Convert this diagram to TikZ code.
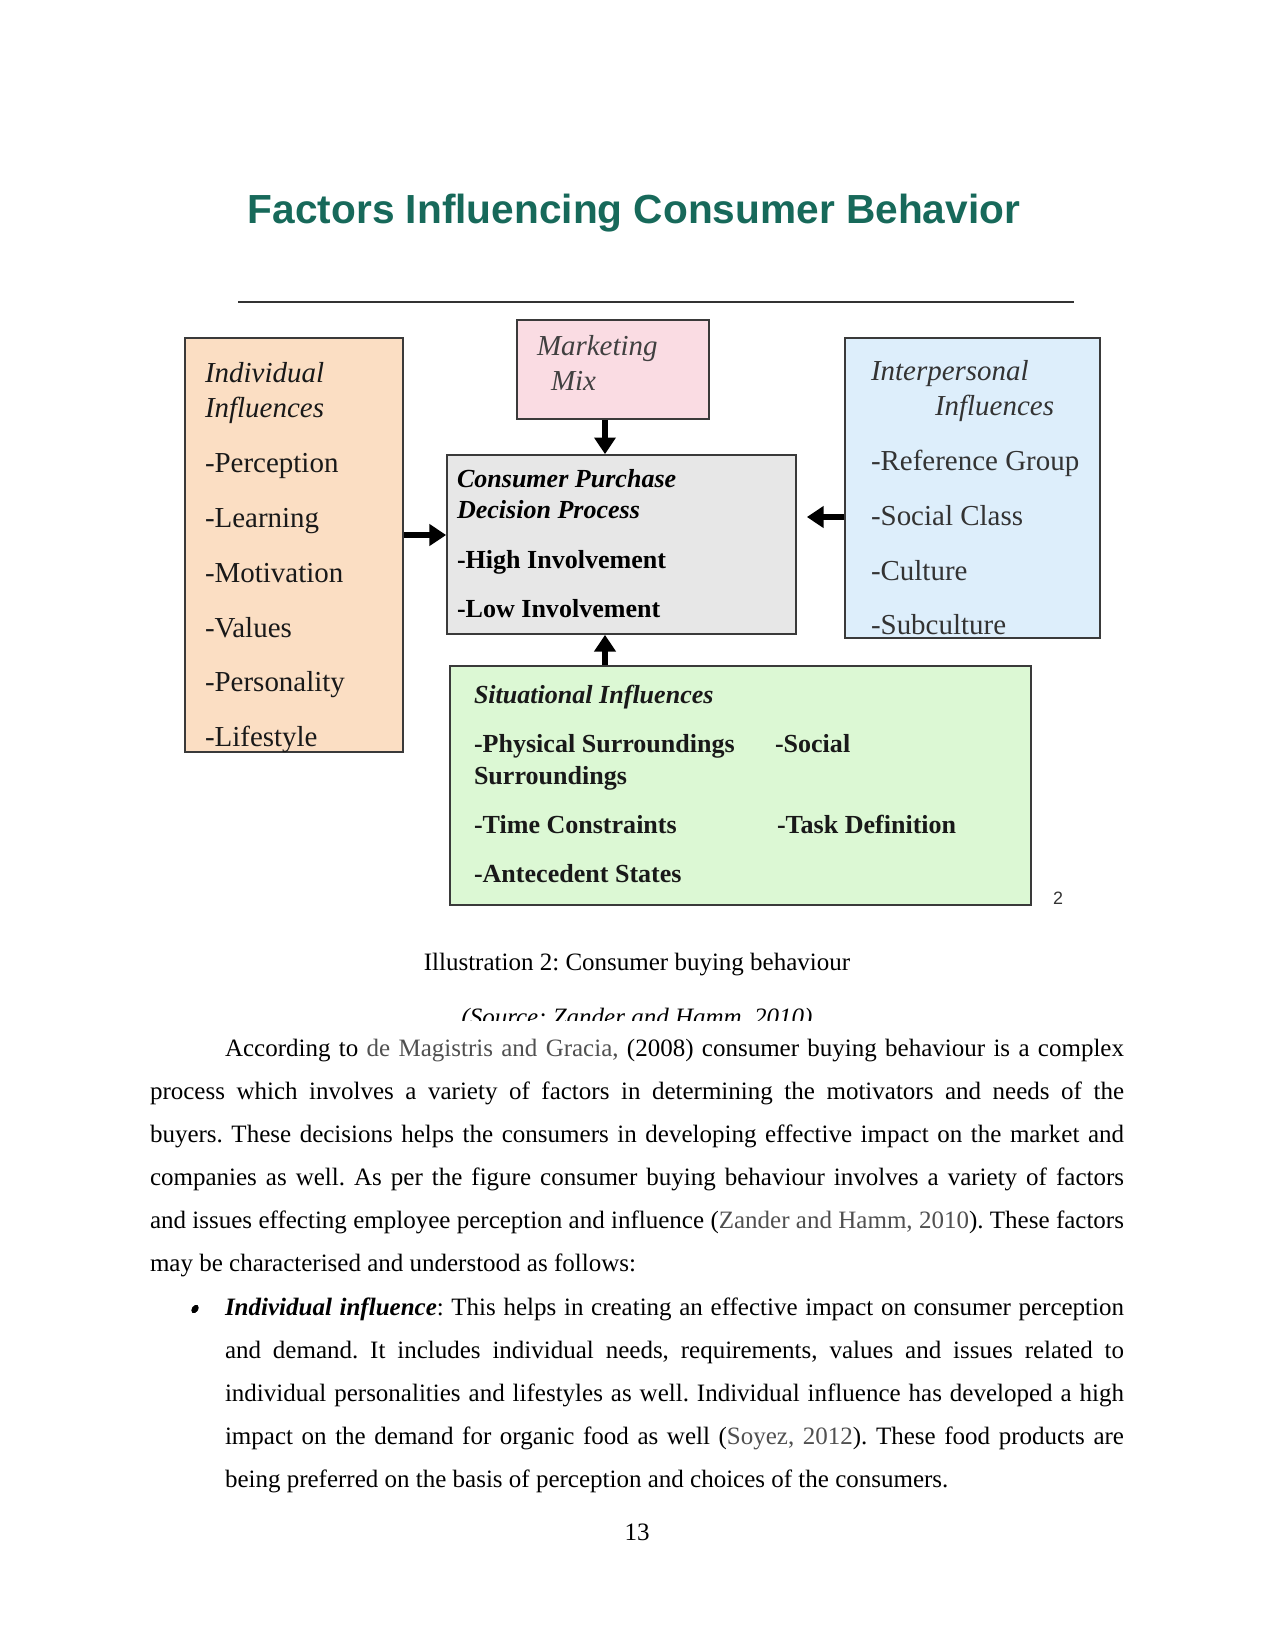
\documentclass[tikz,border=0pt]{standalone}
\usepackage{fontspec}
\setmainfont{Liberation Serif}
\newfontfamily\titlefont{Liberation Sans}
\usetikzlibrary{arrows.meta}
\definecolor{titlecol}{HTML}{17695A}
\definecolor{rulecol}{HTML}{333333}
\definecolor{edgecol}{HTML}{3A3A3A}
\definecolor{peach}{HTML}{FBDEC3}
\definecolor{pinkfill}{HTML}{FADCE3}
\definecolor{grayfill}{HTML}{E7E7E7}
\definecolor{bluefill}{HTML}{DDEEFB}
\definecolor{greenfill}{HTML}{DCF8D4}
\definecolor{citecol}{HTML}{505050}
\newcommand\fszA{\fontsize{13.9bp}{16bp}\selectfont}
\newcommand\fszB{\fontsize{12.5bp}{15bp}\selectfont}
\newcommand\fszBody{\fontsize{12bp}{14bp}\selectfont}
\frenchspacing
\begin{document}
\frenchspacing
\begin{tikzpicture}[x=0.48bp,y=-0.48bp,
  box/.style={draw=edgecol, line width=0.8bp, inner sep=0, rectangle},
  txt/.style={anchor=base west, inner sep=0, outer sep=0},
  bigarrow/.style={line width=2.8bp, -{Triangle[width=10bp,length=8bp]}},
  bodyline/.style={anchor=base west, inner sep=0, outer sep=0, font=\fszBody}]
\useasboundingbox[fill=white] (0,0) rectangle (1275,1650);

% title and rule
\node[anchor=base, inner sep=0, text=titlecol, font=\titlefont\bfseries\fontsize{19.5bp}{22bp}\selectfont] (title) at (634,223) {Factors Influencing Consumer Behavior};
\coordinate (ruleL) at (238,302);
\coordinate (ruleR) at (1074,302);
\draw[line width=1bp, rulecol] (ruleL) -- (ruleR);

% boxes
\node[box, fill=peach, minimum width=104.64bp, minimum height=198.72bp] (ind) at (294,545) {};
\node[box, fill=pinkfill, minimum width=92.16bp, minimum height=47.52bp] (mm) at (613,369.5) {};
\node[box, fill=grayfill, minimum width=167.52bp, minimum height=85.92bp] (cp) at (621.5,544.5) {};
\node[box, fill=bluefill, minimum width=122.4bp, minimum height=144bp] (ip) at (972.5,488) {};
\node[box, fill=greenfill, minimum width=278.88bp, minimum height=114.72bp] (sit) at (740.5,785.5) {};

% individual text
\begin{scope}[every node/.style={txt, font=\fszA, text=black!90}]
\node (i1) at (205,382) {\itshape Individual};
\node (i2) at (205,417) {\itshape Influences};
\node (i3) at (205,472) {-Perception};
\node (i4) at (205,527) {-Learning};
\node (i5) at (205,582) {-Motivation};
\node (i6) at (205,637) {-Values};
\node (i7) at (205,691) {-Personality};
\node (i8) at (205,746) {-Lifestyle};
\end{scope}

% marketing mix
\begin{scope}[every node/.style={txt, font=\fszA\itshape, text=black!75}]
\node (m1) at (537,355) {Marketing};
\node (m2) at (551,390) {Mix};
\end{scope}

% consumer purchase
\begin{scope}[every node/.style={txt, font=\fszB, text=black}]
\node (c1) at (457,487) {\bfseries\itshape Consumer Purchase};
\node (c2) at (457,518) {\bfseries\itshape Decision Process};
\node (c3) at (457,568) {\bfseries -High Involvement};
\node (c4) at (457,617) {\bfseries -Low Involvement};
\end{scope}

% interpersonal
\begin{scope}[every node/.style={txt, font=\fszA, text=black!80}]
\node (p1) at (871,380) {\itshape Interpersonal};
\node (p2) at (935,415) {\itshape Influences};
\node (p3) at (871,470) {-Reference Group};
\node (p4) at (871,525) {-Social Class};
\node (p5) at (871,580) {-Culture};
\node (p6) at (871,634) {-Subculture};
\end{scope}

% situational
\begin{scope}[every node/.style={txt, font=\fszB\bfseries, text=black!90}]
\node (s1) at (474,703) {\itshape Situational Influences};
\node (s2) at (474,752) {-Physical Surroundings};
\node (s3) at (775,752) {-Social};
\node (s4) at (474,784) {Surroundings};
\node (s5) at (474,833) {-Time Constraints};
\node (s6) at (777,833) {-Task Definition};
\node (s7) at (474,882) {-Antecedent States};
\end{scope}
\node[anchor=base, inner sep=0, text=black!80, font=\titlefont\fontsize{8.6bp}{10bp}\selectfont] (two) at (1058,904) {2};

% arrows
\coordinate (ax) at (605,0);
\coordinate (ay1) at (0,535);
\coordinate (ay2) at (0,517);
\draw[bigarrow] (ax |- mm.south) -- (ax |- cp.north);
\draw[bigarrow] (ax |- sit.north) -- (ax |- cp.south);
\draw[bigarrow] (ind.east |- ay1) -- (cp.west |- ay1);
\draw[bigarrow] (ip.west |- ay2) -- ([xshift=4.8bp]cp.east |- ay2);

% caption
\node[anchor=base, inner sep=0, font=\fszBody] (cap) at (637,970) {Illustration 2: Consumer buying behaviour};
\begin{scope}
\clip (0,0) rectangle (1275,1020);
\node[anchor=base, inner sep=0, font=\fszBody\itshape] (src) at (637,1025) {(Source: Zander and Hamm, 2010)};
\end{scope}

% body paragraph
\node[bodyline] (b1) at (225,1056) {\makebox[431.52bp][s]{According to \textcolor{citecol}{de Magistris and Gracia,} (2008) consumer buying behaviour is a complex}};
\node[bodyline] (b2) at (150,1099) {\makebox[467.52bp][s]{process which involves a variety of factors in determining the motivators and needs of the}};
\node[bodyline] (b3) at (150,1142) {\makebox[467.52bp][s]{buyers. These decisions helps the consumers in developing effective impact on the market and}};
\node[bodyline] (b4) at (150,1185) {\makebox[467.52bp][s]{companies as well. As per the figure consumer buying behaviour involves a variety of factors}};
\node[bodyline] (b5) at (150,1228) {\makebox[467.52bp][s]{and issues effecting employee perception and influence (\textcolor{citecol}{Zander and Hamm, 2010}). These factors}};
\node[bodyline] (b6) at (150,1271) {may be characterised and understood as follows:};

% bullet
\fill[rotate around={-35:(195,1309)}] (195,1309) ellipse [x radius=3.2, y radius=4.6];
\node[bodyline] (u1) at (225,1315) {\makebox[431.52bp][s]{\textbf{\textit{Individual influence}}: This helps in creating an effective impact on consumer perception}};
\node[bodyline] (u2) at (225,1358) {\makebox[431.52bp][s]{and demand. It includes individual needs, requirements, values and issues related to}};
\node[bodyline] (u3) at (225,1401) {\makebox[431.52bp][s]{individual personalities and lifestyles as well. Individual influence has developed a high}};
\node[bodyline] (u4) at (225,1444) {\makebox[431.52bp][s]{impact on the demand for organic food as well (\textcolor{citecol}{Soyez, 2012}). These food products are}};
\node[bodyline] (u5) at (225,1487) {being preferred on the basis of perception and choices of the consumers.};

\node[anchor=base, inner sep=0, font=\fszBody] (pg) at (637,1540) {13};
\end{tikzpicture}
\end{document}
